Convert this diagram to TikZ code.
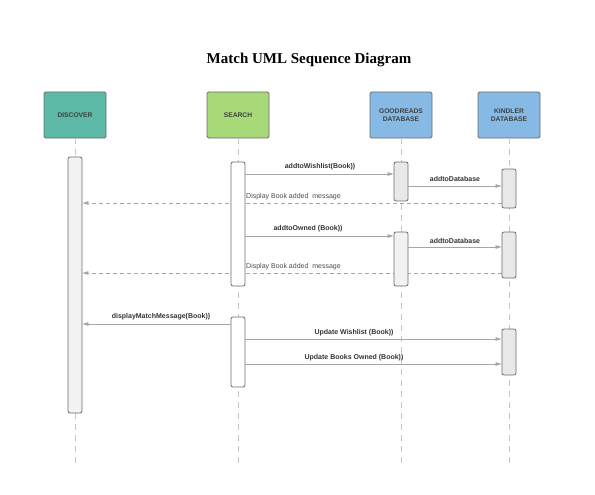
\documentclass[tikz,border=0pt]{standalone}
\usepackage{fontspec}
\setmainfont{Liberation Sans}
\newfontfamily\titlefont{Liberation Serif}
\usetikzlibrary{arrows.meta,backgrounds}

\definecolor{discovercol}{HTML}{5CB9A6}
\definecolor{searchcol}{HTML}{A8D978}
\definecolor{dbcol}{HTML}{86BAE4}

\tikzset{
    head/.style={draw=gray!85!black, line width=0.8pt, rounded corners=1.5pt, minimum width=62pt, minimum height=46pt,
        font=\fontsize{6.7}{8}\selectfont\bfseries, text=black!75, align=center},
    bar/.style={draw=gray!85!black, line width=0.8pt, rounded corners=2pt, minimum width=14pt, inner sep=0pt},
    lifeline/.style={draw=gray!45, line width=0.8pt, dash pattern=on 6pt off 5pt},
    msg/.style={draw=gray!70, line width=0.6pt, -{Triangle[length=6pt,width=3.5pt,fill=gray!70]}},
    reply/.style={msg, dash pattern=on 4pt off 3pt},
    lbl/.style={font=\fontsize{7}{8}\selectfont\bfseries, text=black!80, inner sep=0pt},
    rlbl/.style={font=\fontsize{7}{8}\selectfont, text=black!70, inner sep=0pt, anchor=west}
}

\begin{document}
\begin{tikzpicture}[x=1pt,y=-1pt]
    \useasboundingbox (0,0) rectangle (595,495);

    \node[font=\titlefont\bfseries\fontsize{15}{18}\selectfont] (title) at (309,60) {Match UML Sequence Diagram};

    \node[head, fill=discovercol] (disc) at (75,115) {DISCOVER};
    \node[head, fill=searchcol] (srch) at (238,115) {SEARCH};
    \node[head, fill=dbcol] (good) at (401,115) {GOODREADS\\DATABASE};
    \node[head, fill=dbcol] (kind) at (509,115) {KINDLER\\DATABASE};

    \foreach \h in {disc,srch,good,kind}
        \draw[lifeline] (\h.south) -- (\h.south |- 0,463);

    \node[bar, fill=gray!10, minimum height=256pt] (db) at (75,285) {};
    \node[bar, fill=white, minimum height=124pt] (sb1) at (238,224) {};
    \node[bar, fill=white, minimum height=70pt] (sb2) at (238,352) {};
    \node[bar, fill=gray!18, minimum height=39pt] (gb1) at (401,181.5) {};
    \node[bar, fill=gray!10, minimum height=54pt] (gb2) at (401,259) {};
    \node[bar, fill=gray!18, minimum height=39pt] (kb1) at (509,188.5) {};
    \node[bar, fill=gray!18, minimum height=46pt] (kb2) at (509,255) {};
    \node[bar, fill=gray!18, minimum height=46pt] (kb3) at (509,352) {};

    \draw[msg] (sb1.east |- 0,174) -- (gb1.west |- 0,174);
    \node[lbl] (m1) at (320,167) {addtoWishlist(Book))};
    \draw[msg] (gb1.east |- 0,186) -- (kb1.west |- 0,186);
    \node[lbl] (m2) at (455,179) {addtoDatabase};
    \begin{scope}[on background layer]
        \draw[reply] (kb1.west |- 0,203) -- (db.east |- 0,203);
    \end{scope}
    \node[rlbl] (m3) at (246,197) {Display Book added\ \ message};

    \draw[msg] (sb1.east |- 0,236) -- (gb2.west |- 0,236);
    \node[lbl] (m4) at (308,229) {addtoOwned (Book))};
    \draw[msg] (gb2.east |- 0,247) -- (kb2.west |- 0,247);
    \node[lbl] (m5) at (455,241) {addtoDatabase};
    \begin{scope}[on background layer]
        \draw[reply] (kb2.west |- 0,273) -- (db.east |- 0,273);
    \end{scope}
    \node[rlbl] (m6) at (246,267) {Display Book added\ \ message};

    \draw[msg] (sb2.west |- 0,324) -- (db.east |- 0,324);
    \node[lbl] (m7) at (161,317) {displayMatchMessage(Book))};
    \draw[msg] (sb2.east |- 0,339) -- (kb3.west |- 0,339);
    \node[lbl] (m8) at (354,333) {Update Wishlist (Book))};
    \draw[msg] (sb2.east |- 0,364) -- (kb3.west |- 0,364);
    \node[lbl] (m9) at (354,358) {Update Books Owned (Book))};
\end{tikzpicture}
\end{document}
